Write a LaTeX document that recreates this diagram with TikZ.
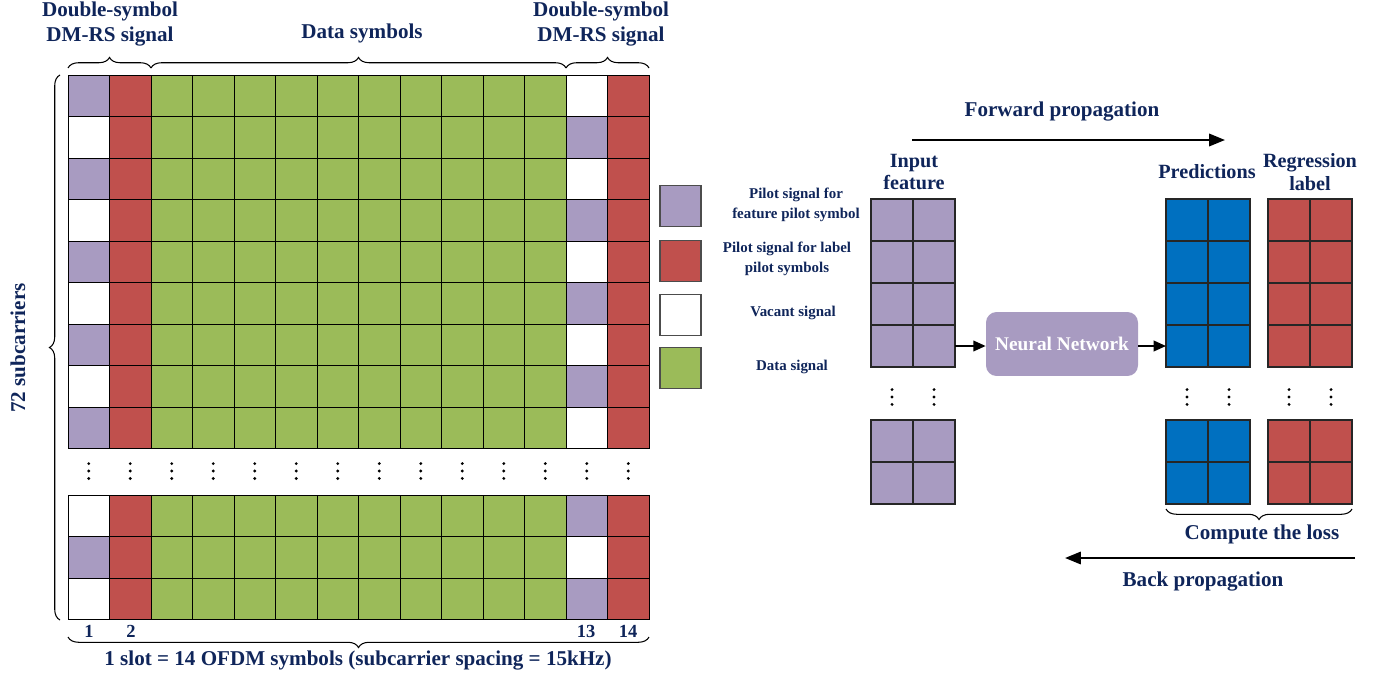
\documentclass[tikz,border=0pt]{standalone}
\usepackage{fontspec}
\setmainfont{Liberation Serif}
\usetikzlibrary{arrows.meta,decorations.pathreplacing}

\definecolor{pilotpurple}{RGB}{168,155,193}
\definecolor{pilotred}{RGB}{192,80,77}
\definecolor{datagreen}{RGB}{155,187,89}
\definecolor{predblue}{RGB}{0,112,192}
\definecolor{textblue}{RGB}{15,37,90}

\tikzset{
  lbl/.style={text=textblue, font=\bfseries\fontsize{12}{14.2}\selectfont, align=center},
  small/.style={text=textblue, font=\bfseries\fontsize{8.5}{11.3}\selectfont, align=center},
  cell/.style={draw=black, line width=0.55pt},
  nncell/.style={draw=black!85, line width=0.9pt},
  legbox/.style={draw=black!70, line width=0.7pt, minimum size=0.82cm, inner sep=0pt},
  nnbox/.style={fill=pilotpurple, rounded corners=6pt, minimum width=3.04cm, minimum height=1.28cm,
    text=white, font=\bfseries\fontsize{11}{13}\selectfont},
  bigbrace/.style={decorate, decoration={brace, amplitude=6pt}, line width=0.6pt},
  flow/.style={line width=1.3pt, -{Triangle[length=9pt,width=7pt]}},
  flowsmall/.style={line width=1.1pt, -{Triangle[length=7pt,width=6pt]}},
}

\newcommand{\vdotsat}[2]{%
  \foreach \k in {-1,0,1} {\fill ({#1},{#2+\k*7.4}) circle (1.6);}}

\begin{document}
\begin{tikzpicture}[x=0.02cm,y=-0.02cm]
\useasboundingbox (0,0) rectangle (1385,679);

% resource grid, upper part
\foreach \r in {1,...,9}{
  \pgfmathsetmacro{\ytop}{75+(\r-1)*41.5}
  \ifodd\r \def\fa{pilotpurple}\def\fb{white}\else \def\fa{white}\def\fb{pilotpurple}\fi
  \filldraw[cell, fill=\fa] (68,\ytop) rectangle ++(41.5,41.5);
  \filldraw[cell, fill=pilotred] (109.5,\ytop) rectangle ++(41.5,41.5);
  \foreach \c in {2,...,11}
    \filldraw[cell, fill=datagreen] ({68+\c*41.5},\ytop) rectangle ++(41.5,41.5);
  \filldraw[cell, fill=\fb] (566,\ytop) rectangle ++(41.5,41.5);
  \filldraw[cell, fill=pilotred] (607.5,\ytop) rectangle ++(41.5,41.5);
}

% resource grid, lower part
\foreach \r in {1,...,3}{
  \pgfmathsetmacro{\ytop}{495+(\r-1)*41.5}
  \ifodd\r \def\fa{white}\def\fb{pilotpurple}\else \def\fa{pilotpurple}\def\fb{white}\fi
  \filldraw[cell, fill=\fa] (68,\ytop) rectangle ++(41.5,41.5);
  \filldraw[cell, fill=pilotred] (109.5,\ytop) rectangle ++(41.5,41.5);
  \foreach \c in {2,...,11}
    \filldraw[cell, fill=datagreen] ({68+\c*41.5},\ytop) rectangle ++(41.5,41.5);
  \filldraw[cell, fill=\fb] (566,\ytop) rectangle ++(41.5,41.5);
  \filldraw[cell, fill=pilotred] (607.5,\ytop) rectangle ++(41.5,41.5);
}

\foreach \c in {1,...,14}{
  \vdotsat{68+(\c-0.5)*41.5}{471}
}

% braces and labels of the grid
\draw[bigbrace] (68,68) -- (151,68);
\draw[bigbrace] (151,68) -- (566,68);
\draw[bigbrace] (566,68) -- (649,68);
\draw[bigbrace] (60,620) -- (60,75);
\draw[bigbrace] (649,637) -- (68,637);

\node[lbl] (dmrsleft) at (110,24) {Double-symbol\\DM-RS signal};
\node[lbl] (datasym) at (362,33) {Data symbols};
\node[lbl] (dmrsright) at (601,24) {Double-symbol\\DM-RS signal};
\node[lbl, rotate=90] (subc) at (18,348) {72 subcarriers};
\node[lbl] (slot) at (358,661) {1 slot = 14 OFDM symbols (subcarrier spacing = 15kHz)};

\node[lbl, font=\bfseries\fontsize{10.5}{12}\selectfont] (sym1) at (89,631) {1};
\node[lbl, font=\bfseries\fontsize{10.5}{12}\selectfont] (sym2) at (131,631) {2};
\node[lbl, font=\bfseries\fontsize{10.5}{12}\selectfont] (sym13) at (586,631) {13};
\node[lbl, font=\bfseries\fontsize{10.5}{12}\selectfont] (sym14) at (628,631) {14};

% legend
\node[legbox, fill=pilotpurple] (legfeat) at (680.5,206) {};
\node[legbox, fill=pilotred] (leglabel) at (680.5,261) {};
\node[legbox, fill=white] (legvacant) at (680.5,315) {};
\node[legbox, fill=datagreen] (legdata) at (680.5,368) {};
\node[small] (legfeattxt) at (796,205) {Pilot signal for\\feature pilot symbol};
\node[small] (leglabeltxt) at (787,259) {Pilot signal for label\\pilot symbols};
\node[small] (legvacanttxt) at (793,313) {Vacant signal};
\node[small] (legdatatxt) at (792,367) {Data signal};

% training pipeline
\foreach \x/\f in {871/pilotpurple,1166/predblue,1268/pilotred}{
  \foreach \i in {0,1}{
    \foreach \j in {0,...,3}
      \filldraw[nncell, fill=\f] ({\x+\i*42},{199+\j*42}) rectangle ++(42,42);
    \foreach \j in {0,1}
      \filldraw[nncell, fill=\f] ({\x+\i*42},{420+\j*42}) rectangle ++(42,42);
    \vdotsat{\x+21+\i*42}{397}
  }
}

\node[nnbox] (nn) at (1062,344) {Neural Network};
\coordinate (infeat) at (955,346);
\coordinate (predin) at (1166,346);
\draw[flowsmall] (infeat) -- (infeat -| nn.west);
\draw[flowsmall] (nn.east |- predin) -- (predin);

\coordinate (fwdstart) at (912,140);
\coordinate (fwdend) at (1225,140);
\draw[flow] (fwdstart) -- (fwdend);
\coordinate (backstart) at (1355,558);
\coordinate (backend) at (1065,558);
\draw[flow] (backstart) -- (backend);

\draw[bigbrace] (1352,509) -- (1166,509);

\node[lbl] (fwd) at (1062,112) {Forward propagation};
\node[lbl, font=\bfseries\fontsize{11.5}{13}\selectfont] (infeattxt) at (914,172) {Input\\feature};
\node[lbl, font=\bfseries\fontsize{11.5}{13}\selectfont] (predtxt) at (1207,172) {Predictions};
\node[lbl, font=\bfseries\fontsize{11.5}{13}\selectfont] (regtxt) at (1310,172) {Regression\\label};
\node[lbl] (loss) at (1262,534) {Compute the loss};
\node[lbl] (back) at (1203,582) {Back propagation};
\end{tikzpicture}
\end{document}
